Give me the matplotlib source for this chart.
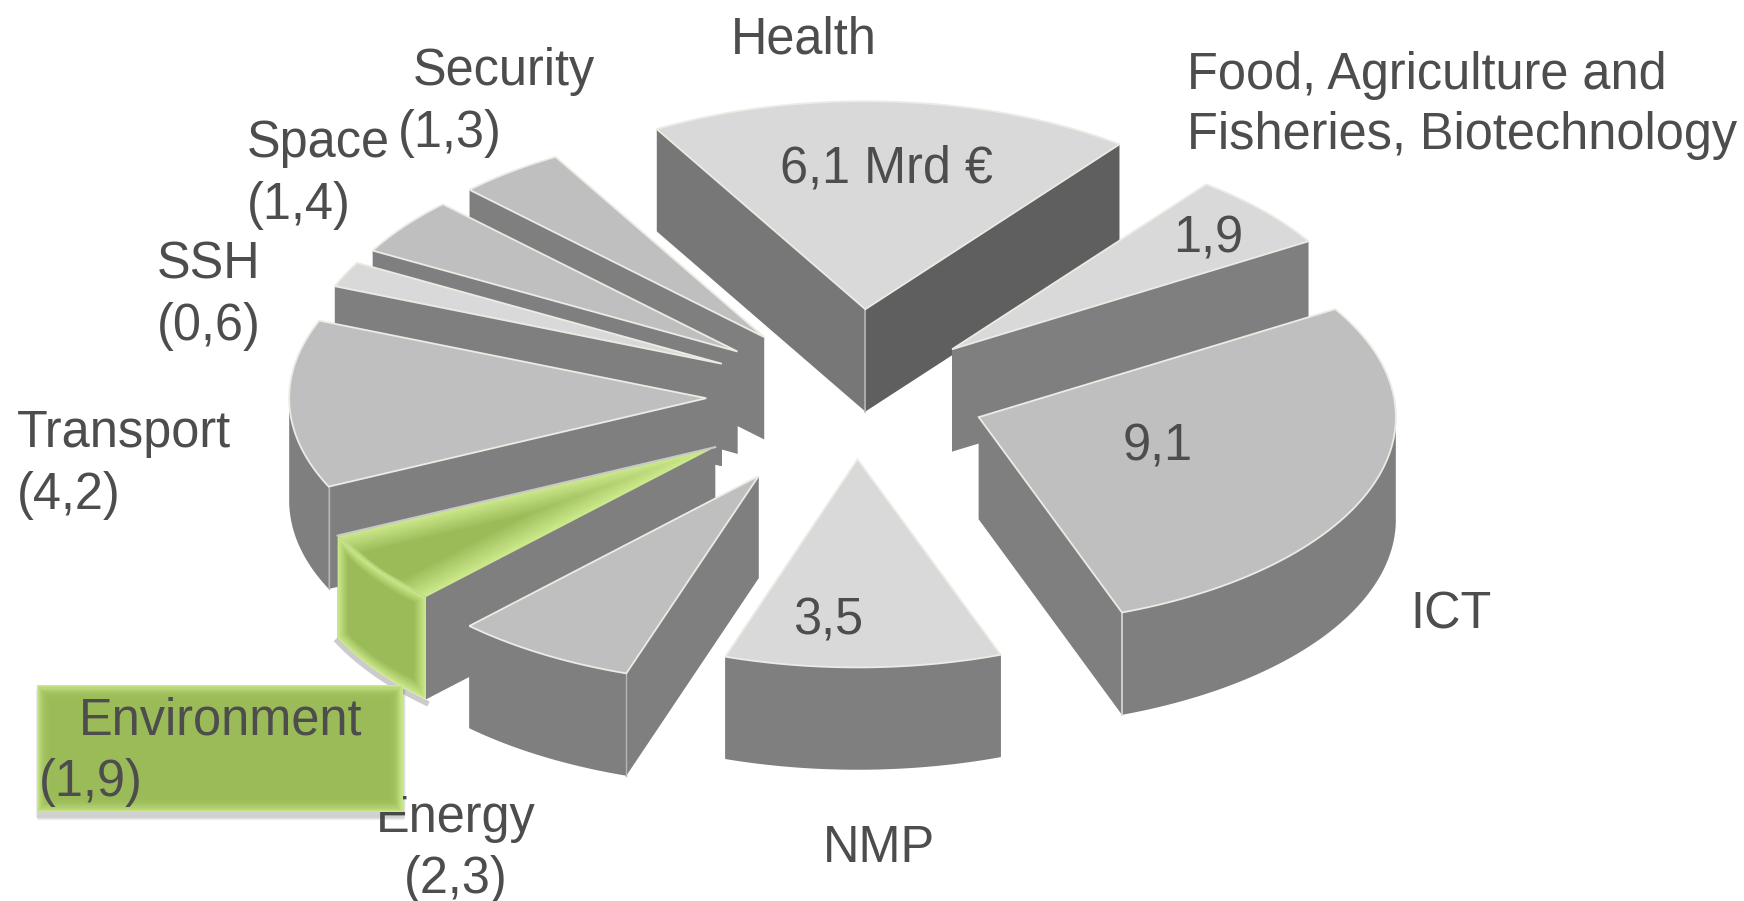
import numpy as np
import matplotlib
matplotlib.use("Agg")
from matplotlib import pyplot as plt
from matplotlib.patches import Polygon, Rectangle

plt.rcParams['font.family'] = ['Liberation Sans', 'DejaVu Sans']

###################### data #############################
sectors = ["Health", "Food", "ICT", "NMP", "Energy", "Environment", "Transport", "SSH", "Space", "Security"]
# they round to the printed labels
values = [6.06, 1.90, 9.08, 3.46, 2.28, 1.88, 4.22, 0.64, 1.44, 1.34]

###################### style, in the 1568x810 frame #####
center = (772, 350)
rx, ry = 375, 187
depth = 92
start_angle = 120
explode_x = [6, 84, 108, -1, -90, -129, -137, -123, -109, -85]
explode_y = [-72, -36, 25, 63, 78, 52, 8, -23, -34, -47]
top_colors = ["#d9d9d9", "#d9d9d9", "#bfbfbf", "#d9d9d9", "#bfbfbf", "#9bbb59", "#bfbfbf", "#d9d9d9", "#bfbfbf", "#bfbfbf"]
wall_start = ["#777777"] + ["#7f7f7f"]*9
wall_end = ["#5f5f5f"] + ["#7f7f7f"]*9
text_color = "#4d4d4d"
edge_color = "#ecece4"
font = 36.4

green_base = np.array(matplotlib.colors.to_rgb("#9bbb59"))
green_light = np.array(matplotlib.colors.to_rgb("#cbe88a"))

fig = plt.figure(figsize=(17.44, 9.01), dpi=100)
ax = fig.add_axes([0, 0, 1, 1])
ax.set_xlim(0, 1568)
ax.set_ylim(810, 0)
ax.axis("off")


def bevel(points, zorder, steps=12, amount=0.3):
    # light rim fading into the flat green, shrunk towards the centroid
    points = np.asarray(points)
    mid = points.mean(axis=0)
    for i in range(steps):
        f = i/(steps-1)
        col = green_light*(1-f) + green_base*f
        ax.add_patch(Polygon(mid + (points-mid)*(1-amount*f), closed=True, fc=col, ec="none", zorder=zorder))


def sweep_to_slices():
    out = []
    a = start_angle
    total = sum(values)
    for i, v in enumerate(values):
        sweep = v/total*360
        out.append((i, a, a-sweep))
        a -= sweep
    return out


slices = sweep_to_slices()
# back to front
slices = sorted(slices, key=lambda s: -np.sin(np.radians((s[1]+s[2])/2)))

for z, (i, a0, a1) in enumerate(slices):
    px = center[0] + explode_x[i]
    py = center[1] + explode_y[i]
    t = np.radians(np.linspace(a0, a1, 80))
    arc = np.column_stack([px + rx*np.cos(t), py - ry*np.sin(t)])
    down = np.array([0, depth])
    apex = np.array([px, py])
    is_env = sectors[i] == "Environment"
    zo = 2 + z

    walls = [(arc[0], wall_start[i]), (arc[-1], wall_end[i])]
    # the wall nearer the viewer goes on top
    walls.sort(key=lambda w: w[0][1])
    for corner, col in walls:
        ax.add_patch(Polygon([apex, corner, corner+down, apex+down], closed=True, fc=col, ec="none", zorder=zo))

    # outer wall only where the rim faces the viewer
    front = np.sin(t) <= 0
    if front.sum() > 1:
        rim = arc[front]
        outer = np.vstack([rim, (rim+down)[::-1]])
        if is_env:
            ax.plot((rim+down)[:, 0], (rim+down)[:, 1]+3, color="#555555", alpha=0.3, lw=4, zorder=zo)
            bevel(outer, zo, amount=0.25)
        else:
            ax.add_patch(Polygon(outer, closed=True, fc="#7f7f7f", ec="none", zorder=zo))

    # pale vertical seam where two visible walls meet
    c0, s0 = np.cos(np.radians(a0)), np.sin(np.radians(a0))
    c1, s1 = np.cos(np.radians(a1)), np.sin(np.radians(a1))
    if s0 < 0 and c0 < 0 and not is_env:
        ax.plot([arc[0][0]]*2, [arc[0][1], arc[0][1]+depth], color="#b5b5b5", lw=1, zorder=zo)
    if s1 < 0 and c1 > 0:
        ax.plot([arc[-1][0]]*2, [arc[-1][1], arc[-1][1]+depth], color="#dcdcdc", lw=1.2, zorder=zo)
    if sectors[i] == "Health":
        ax.plot([px, px], [py, py+depth], color="#b5b5b5", lw=1.2, zorder=zo)

    top = np.vstack([apex, arc])
    if is_env:
        bevel(top, zo+0.5, amount=0.55)
        ax.plot([apex[0], arc[-1][0]], [apex[1], arc[-1][1]], color="#c8c8c8", lw=1.5, zorder=zo+0.6)
    else:
        ax.add_patch(Polygon(top, closed=True, fc=top_colors[i], ec=edge_color, lw=1.3, joinstyle="miter", zorder=zo+0.5))

######################### labels ########################
fmt = lambda v: ("%.1f" % v).replace(".", ",")
val = dict(zip(sectors, values))

outer_labels = [
    ("Health", 657, 48), ("Security", 371, 76), ("(%s)" % fmt(val["Security"]), 358, 132),
    ("Space", 222, 141), ("(%s)" % fmt(val["Space"]), 222, 197),
    ("SSH", 141, 250), ("(%s)" % fmt(val["SSH"]), 141, 306),
    ("Transport", 15, 402), ("(%s)" % fmt(val["Transport"]), 15, 458),
    ("Energy", 338, 748), ("(%s)" % fmt(val["Energy"]), 363, 803),
    ("NMP", 740, 775), ("ICT", 1268, 565),
    ("Food, Agriculture and", 1067, 80), ("Fisheries, Biotechnology", 1067, 134),
]
inner_labels = [
    ("%s Mrd €" % fmt(val["Health"]), 701, 164), (fmt(val["Food"]), 1055, 227),
    (fmt(val["ICT"]), 1009, 414), (fmt(val["NMP"]), 713, 570),
]
for s, x, y in outer_labels + inner_labels:
    ax.text(x, y, s, fontsize=font, color=text_color, va="baseline", ha="left", zorder=40)

# highlighted box for the selected sector, sits above the Energy label
bx0, by0, bx1, by1 = 33, 616, 362, 730
for k in range(5):
    ax.add_patch(Rectangle((bx0-1+k*0.5, by0+3), bx1-bx0+4-k, by1-by0+2+k*0.6, fc="#444444", alpha=0.05, ec="none", zorder=50))
ax.add_patch(Rectangle((bx0, by0), bx1-bx0, by1-by0, fc=green_light, ec="none", zorder=51))
for k in range(16):
    f = k/15
    ax.add_patch(Rectangle((bx0+k, by0+k), bx1-bx0-2*k, by1-by0-2*k, fc=green_light*(1-f)**3 + green_base*(1-(1-f)**3), ec="none", zorder=51))
ax.text(71, 660, "Environment", fontsize=font, color=text_color, va="baseline", ha="left", zorder=60)
ax.text(35, 716, "(%s)" % fmt(val["Environment"]), fontsize=font, color=text_color, va="baseline", ha="left", zorder=60)

fig.savefig("out.png", dpi=100)
